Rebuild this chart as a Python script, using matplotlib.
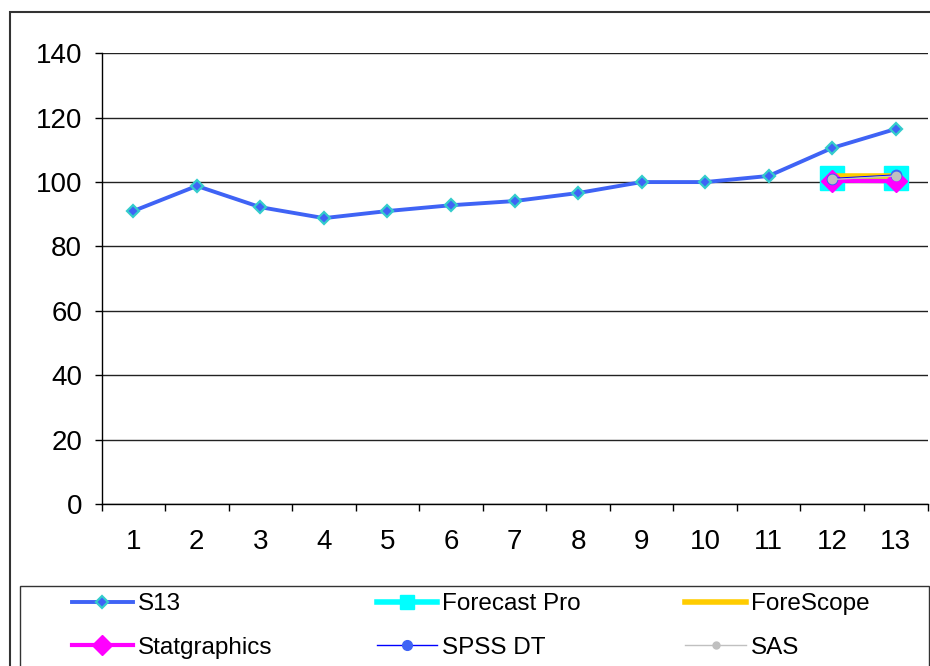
import matplotlib.pyplot as plt
from matplotlib.patches import Rectangle
from matplotlib.lines import Line2D

plt.rcParams['font.family'] = ['Liberation Sans', 'DejaVu Sans']

# monthly index, history plus two forecast periods
periods = list(range(1, 14))
s13 = [91.0, 98.8, 92.2, 88.8, 91.0, 92.8, 94.1, 96.6, 100.0, 100.0, 101.9, 110.6, 116.5]

fc_periods = [12, 13]
forecast_pro = [101.3, 101.4]
forescope = [101.9, 101.9]
statgraphics = [100.4, 100.3]
spss_dt = [101.1, 102.2]
sas = [100.8, 101.9]

W, H = 930, 666
fig = plt.figure(figsize=(W / 100, H / 100), dpi=100)

# axes box in pixel terms
x0, x1, ytop, ybot = 101.5, 927.5, 53.3, 504
ax = fig.add_axes([x0 / W, 1 - ybot / H, (x1 - x0) / W, (ybot - ytop) / H])

blue = '#3F63F5'
ax.plot(periods, s13, color=blue, lw=2.8, marker='D', ms=6,
        mfc=blue, mec='#33CCCC', mew=1.6, zorder=3)
ax.plot(fc_periods, forecast_pro, color='#00FFFF', lw=4, marker='s', ms=17,
        mfc='#00FFFF', mec='#00FFFF', zorder=3)
ax.plot(fc_periods, forescope, color='#FFCC00', lw=4, zorder=3)
ax.plot(fc_periods, statgraphics, color='#FF00FF', lw=3, marker='D', ms=11,
        mfc='#FF00FF', mec='#FF00FF', zorder=3)
ax.plot(fc_periods, spss_dt, color='#0000FF', lw=1, marker='o', ms=7.5,
        mfc=blue, mec=blue, zorder=3)
ax.plot(fc_periods, sas, color='#C0C0C0', lw=1, marker='o', ms=6,
        mfc='#C0C0C0', mec='#C0C0C0', zorder=3)

ax.set_xlim(0.5, 13.5)
ax.set_ylim(0, 140)
ax.set_yticks(range(0, 141, 20))
ax.yaxis.grid(True, color='#222222', lw=1)
ax.set_axisbelow(True)

ax.set_xticks(periods)
ax.set_xticks([p + 0.5 for p in range(0, 14)], minor=True)
ax.tick_params(axis='x', which='major', length=0, pad=18, labelsize=20)
ax.tick_params(axis='x', which='minor', length=5, width=1, direction='out')
ax.tick_params(axis='y', length=5, width=1, pad=9, labelsize=20)

for side in ['top', 'right']:
    ax.spines[side].set_visible(False)
for side in ['left', 'bottom']:
    ax.spines[side].set_linewidth(1)

# outer chart frame and legend frame
fig.patches.append(Rectangle((9.5 / W, -0.1), 1.2, 1 - 12 / H + 0.1,
                             transform=fig.transFigure, fill=False,
                             ec='#333333', lw=1.5))
fig.patches.append(Rectangle((19.6 / W, -0.1), (929 - 19.6) / W, 1 - 585.5 / H + 0.1,
                             transform=fig.transFigure, fill=False,
                             ec='#333333', lw=1))

# legend keys, filled column by column
handles = [
    Line2D([], [], color=blue, lw=2.8, marker='D', ms=6, mfc=blue, mec='#33CCCC', mew=1.6),
    Line2D([], [], color='#FF00FF', lw=3, marker='D', ms=10, mfc='#FF00FF', mec='#FF00FF'),
    Line2D([], [], color='#00FFFF', lw=4, marker='s', ms=10, mfc='#00FFFF', mec='#00FFFF'),
    Line2D([], [], color='#0000FF', lw=1, marker='o', ms=7, mfc=blue, mec=blue),
    Line2D([], [], color='#FFCC00', lw=4),
    Line2D([], [], color='#C0C0C0', lw=1, marker='o', ms=5, mfc='#C0C0C0', mec='#C0C0C0'),
]
labels = ['S13', 'Statgraphics', 'Forecast Pro', 'SPSS DT', 'ForeScope', 'SAS']
fig.legend(handles, labels, loc='upper left', bbox_to_anchor=(72 / W, 1 - 593 / H),
           ncol=3, frameon=False, fontsize=17.5, borderpad=0,
           borderaxespad=0, handlelength=2.5, handletextpad=0.2,
           columnspacing=4.3, labelspacing=0.9)

fig.savefig('out.png', dpi=100)
